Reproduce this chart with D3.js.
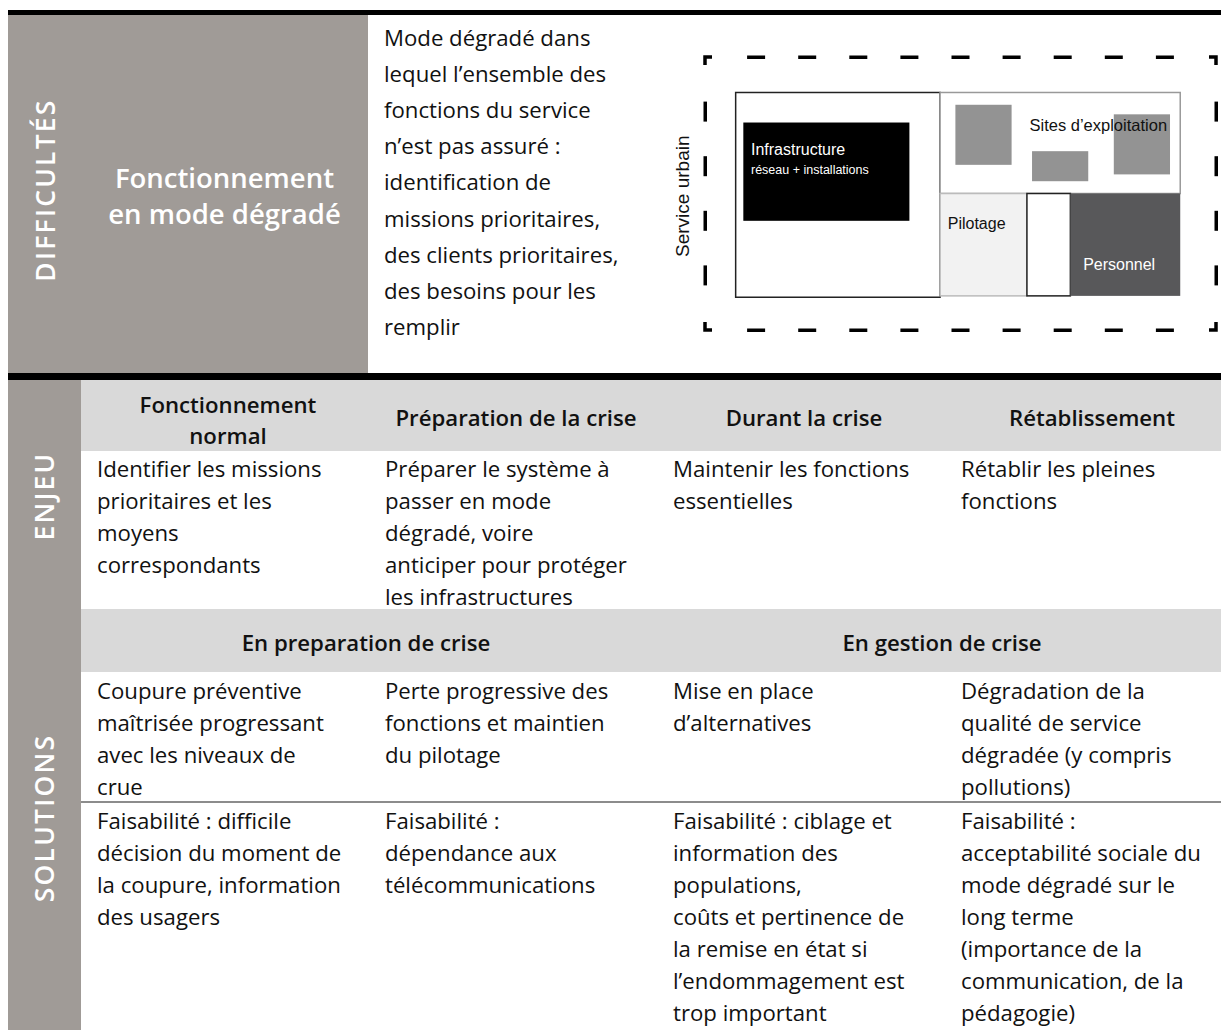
<!DOCTYPE html>
<html><head><meta charset="utf-8">
<script src="https://cdn.jsdelivr.net/npm/d3@7"></script>
<style>
html,body{margin:0;padding:0;background:#fff;}
svg{display:block;}
</style></head>
<body>
<svg id="c" width="1221" height="1030"></svg>
<script>
// ---------- data ----------
const sectionLabels = ["DIFFICULTÉS", "ENJEU", "SOLUTIONS"];
const difficultyTitle = ["Fonctionnement", "en mode dégradé"];
const difficultyText = ["Mode dégradé dans", "lequel l’ensemble des", "fonctions du service",
  "n’est pas assuré :", "identification de", "missions prioritaires,",
  "des clients prioritaires,", "des besoins pour les", "remplir"];
const phases = [["Fonctionnement", "normal"], ["Préparation de la crise"], ["Durant la crise"], ["Rétablissement"]];
const enjeux = [
  ["Identifier les missions", "prioritaires et les", "moyens", "correspondants"],
  ["Préparer le système à", "passer en mode", "dégradé, voire", "anticiper pour protéger", "les infrastructures"],
  ["Maintenir les fonctions", "essentielles"],
  ["Rétablir les pleines", "fonctions"]
];
const solutionGroups = ["En preparation de crise", "En gestion de crise"];
const solutions = [
  ["Coupure préventive", "maîtrisée progressant", "avec les niveaux de", "crue"],
  ["Perte progressive des", "fonctions et maintien", "du pilotage"],
  ["Mise en place", "d’alternatives"],
  ["Dégradation de la", "qualité de service", "dégradée (y compris", "pollutions)"]
];
const faisabilites = [
  ["Faisabilité : difficile", "décision du moment de", "la coupure, information", "des usagers"],
  ["Faisabilité :", "dépendance aux", "télécommunications"],
  ["Faisabilité : ciblage et", "information des", "populations,", "coûts et pertinence de", "la remise en état si", "l’endommagement est", "trop important"],
  ["Faisabilité :", "acceptabilité sociale du", "mode dégradé sur le", "long terme", "(importance de la", "communication, de la", "pédagogie)"]
];
// diagram components (in diagram units 0..100 x 0..100)
const diagramLabel = "Service urbain";
const diagramBoxes = [
  {name:"infraFrame", x0:6, x1:46, y0:13, y1:88, fill:"#fff", stroke:"#222"},
  {name:"infra", x0:7.5, x1:40, y0:24, y1:60, fill:"#000", stroke:"none"},
  {name:"sites", x0:46, x1:93, y0:13, y1:50, fill:"#fff", stroke:"#999"},
  {name:"site1", x0:49, x1:60, y0:17.5, y1:39.5, fill:"#939393", stroke:"none"},
  {name:"site2", x0:64, x1:75, y0:34.5, y1:45.5, fill:"#939393", stroke:"none"},
  {name:"site3", x0:80, x1:91, y0:21, y1:43, fill:"#939393", stroke:"none"},
  {name:"pilotage", x0:46, x1:63, y0:50, y1:87.5, fill:"#f2f2f2", stroke:"#bbb"},
  {name:"blank", x0:63, x1:71.5, y0:50, y1:87.5, fill:"#fff", stroke:"#222"},
  {name:"personnel", x0:71.5, x1:93, y0:50, y1:87.5, fill:"#58585a", stroke:"none"}
];
const diagramTexts = [
  {t:"Infrastructure", x:9, y:34, size:16, color:"#fff"},
  {t:"réseau + installations", x:9, y:41.5, size:12.5, color:"#fff"},
  {t:"Sites d’exploitation", x:63.5, y:25, size:16.5, color:"#111"},
  {t:"Pilotage", x:47.5, y:61, size:16, color:"#111"},
  {t:"Personnel", x:74, y:76, size:16, color:"#fff"}
];

// ---------- layout ----------
const W = 1221, H = 1030;
const svg = d3.select("#c");
const darkGray = "#a09b97", lightGray = "#d9d9d9";
const bodyFont = "'Open Sans', sans-serif";
const bodySize = 22.2, headSize = 22.2;
const left = 8, labelColW = 81, topBlockR = 368;
const topY0 = 15, topY1 = 375;
const yHeader0 = 380, yHeader1 = 451, yEnjeu1 = 609, ySub1 = 672, ySep = 802;

const col = d3.scaleBand().domain(d3.range(4)).range([84, 1236]).padding(0);
const groupScale = d3.scaleBand().domain(d3.range(2)).range([84, 1236]);
const lineY = (start, step) => d3.scaleLinear().domain([0, 1]).range([start, start + step]);

// backgrounds
svg.append("rect").attr("x", left).attr("y", topY0).attr("width", topBlockR - left).attr("height", topY1 - topY0).attr("fill", darkGray);
svg.append("rect").attr("x", left).attr("y", yHeader0).attr("width", labelColW - left).attr("height", H - yHeader0).attr("fill", darkGray);
svg.append("rect").attr("x", labelColW).attr("y", yHeader0).attr("width", W - labelColW).attr("height", yHeader1 - yHeader0).attr("fill", lightGray);
svg.append("rect").attr("x", labelColW).attr("y", yEnjeu1).attr("width", W - labelColW).attr("height", ySub1 - yEnjeu1).attr("fill", lightGray);
// thick rules
svg.append("rect").attr("x", left).attr("y", 10).attr("width", W - left).attr("height", 5).attr("fill", "#000");
svg.append("rect").attr("x", left).attr("y", 373).attr("width", W - left).attr("height", 7).attr("fill", "#000");
svg.append("line").attr("x1", labelColW).attr("x2", W).attr("y1", ySep).attr("y2", ySep).attr("stroke", "#8c8c8c").attr("stroke-width", 2);

// section labels (rotated)
const labelPos = [[45, 190], [44, 496], [44, 818]];
sectionLabels.forEach((s, i) => {
  svg.append("text").text(s)
    .attr("transform", `translate(${labelPos[i][0]},${labelPos[i][1]}) rotate(-90)`)
    .attr("text-anchor", "middle").attr("dominant-baseline", "central")
    .attr("fill", "#fff").attr("font-family", bodyFont).attr("font-weight", 600)
    .attr("font-size", 26.5).attr("letter-spacing", 2.2);
});

// difficulty title
const ly0 = lineY(177, 36);
svg.selectAll("text.dt").data(difficultyTitle).enter().append("text").attr("class", "dt")
  .attr("x", (labelColW + topBlockR) / 2).attr("y", (d, i) => ly0(i))
  .attr("text-anchor", "middle").attr("dominant-baseline", "central")
  .attr("fill", "#fff").attr("font-family", bodyFont).attr("font-weight", 600).attr("font-size", 27.5)
  .text(d => d);

// difficulty text
const ly1 = lineY(37, 36.2);
svg.selectAll("text.dx").data(difficultyText).enter().append("text").attr("class", "dx")
  .attr("x", 384).attr("y", (d, i) => ly1(i)).attr("dominant-baseline", "central")
  .attr("fill", "#111").attr("font-family", bodyFont).attr("font-size", 22.2).text(d => d);

// phases header
phases.forEach((lines, c) => {
  const start = lines.length === 1 ? 417 : 404;
  const ly = lineY(start, 31);
  lines.forEach((t, i) => {
    svg.append("text").attr("x", col(c) + col.bandwidth() / 2).attr("y", ly(i))
      .attr("text-anchor", "middle").attr("dominant-baseline", "central")
      .attr("fill", "#111").attr("font-family", bodyFont).attr("font-weight", 600).attr("font-size", headSize).text(t);
  });
});

function bodyCells(data, y0) {
  const ly = lineY(y0, 32);
  data.forEach((lines, c) => {
    lines.forEach((t, i) => {
      svg.append("text").attr("x", col(c) + 13).attr("y", ly(i)).attr("dominant-baseline", "central")
        .attr("fill", "#111").attr("font-family", bodyFont).attr("font-size", bodySize).text(t);
    });
  });
}
bodyCells(enjeux, 468);
bodyCells(solutions, 690);
bodyCells(faisabilites, 820);

solutionGroups.forEach((t, g) => {
  svg.append("text").attr("x", groupScale(g) + groupScale.bandwidth() / 2 - 6).attr("y", 642)
    .attr("text-anchor", "middle").attr("dominant-baseline", "central")
    .attr("fill", "#111").attr("font-family", bodyFont).attr("font-weight", 600).attr("font-size", headSize).text(t);
});

// ---------- diagram ----------
const dx = d3.scaleLinear().domain([0, 100]).range([705, 1216]);
const dy = d3.scaleLinear().domain([0, 100]).range([57, 330]);
const dg = svg.append("g");
const dashCol = "#000";
const nH = 10, nV = 5;
d3.range(1, nH).forEach(i => {
  const cx = dx(i * 100 / nH);
  dg.append("rect").attr("x", cx - 9).attr("y", dy(0) - 1.5).attr("width", 18).attr("height", 3.5).attr("fill", dashCol);
  dg.append("rect").attr("x", cx - 9).attr("y", dy(100) - 1.5).attr("width", 18).attr("height", 3.5).attr("fill", dashCol);
});
d3.range(1, nV).forEach(i => {
  const cy = dy(i * 100 / nV);
  dg.append("rect").attr("x", dx(0) - 1.5).attr("y", cy - 10).attr("width", 3.5).attr("height", 20).attr("fill", dashCol);
  dg.append("rect").attr("x", dx(100) - 1.5).attr("y", cy - 10).attr("width", 3.5).attr("height", 20).attr("fill", dashCol);
});
[[0, 0, 1, 1], [100, 0, -1, 1], [0, 100, 1, -1], [100, 100, -1, -1]].forEach(([ux, uy, sx, sy]) => {
  const x = dx(ux), y = dy(uy);
  dg.append("path").attr("d", `M${x + sx * 7},${y} L${x},${y} L${x},${y + sy * 8}`)
    .attr("fill", "none").attr("stroke", dashCol).attr("stroke-width", 3.5);
});
dg.selectAll("rect.box").data(diagramBoxes).enter().append("rect").attr("class", "box")
  .attr("x", d => dx(d.x0)).attr("y", d => dy(d.y0))
  .attr("width", d => dx(d.x1) - dx(d.x0)).attr("height", d => dy(d.y1) - dy(d.y0))
  .attr("fill", d => d.fill).attr("stroke", d => d.stroke).attr("stroke-width", 1.5);
dg.selectAll("text.dl").data(diagramTexts).enter().append("text").attr("class", "dl")
  .attr("x", d => dx(d.x)).attr("y", d => dy(d.y)).attr("dominant-baseline", "central")
  .attr("fill", d => d.color).attr("font-family", "'Liberation Sans Narrow', 'Liberation Sans', Arial, sans-serif")
  .attr("font-size", d => d.size).text(d => d.t);
dg.append("text")
  .attr("transform", `translate(${dx(-4.5)},${dy(51)}) rotate(-90)`)
  .attr("text-anchor", "middle").attr("dominant-baseline", "central")
  .attr("fill", "#111").attr("font-family", "'Liberation Sans Narrow', 'Liberation Sans', Arial, sans-serif")
  .attr("font-size", 19).text(diagramLabel);
</script>
</body></html>
